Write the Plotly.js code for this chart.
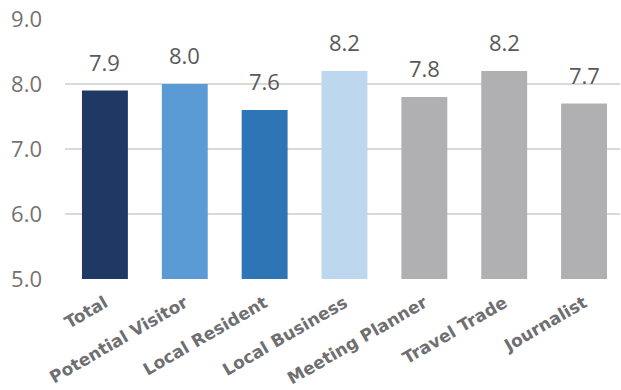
<!DOCTYPE html>
<html><head><meta charset="utf-8">
<script src="https://cdn.plot.ly/plotly-3.0.1.min.js"></script>
<style>html,body{margin:0;padding:0;background:#fff}#chart{width:621px;height:390px}</style>
</head><body><div id="chart"></div>
<script>
const categories = ["Total","Potential Visitor","Local Resident","Local Business","Meeting Planner","Travel Trade","Journalist"];
const values = [7.9, 8.0, 7.6, 8.2, 7.8, 8.2, 7.7];
const colors = ["#1F3864","#5B9BD5","#2E75B6","#BDD7EE","#B0B0B2","#B0B0B2","#B0B0B2"];
const yTicks = [5,6,7,8,9];
const yTickLabels = ["5.0","6.0","7.0","8.0","9.0"];

const trace = {type:"bar", x:categories, y:values, marker:{color:colors}, hoverinfo:"none"};
const annotations = categories.map((c,i)=>({
  x:c, y:values[i], xref:"x", yref:"y", text:values[i].toFixed(1), showarrow:false,
  yanchor:"bottom", yshift:12, font:{family:"Open Sans, sans-serif", size:22, color:"#595959"}
}));
const layout = {
  width:621, height:390, margin:{l:65,r:1,t:19,b:111}, paper_bgcolor:"#fff", plot_bgcolor:"#fff",
  bargap:0.425, showlegend:false,
  xaxis:{range:[-0.5,6.45], tickangle:-30, ticklabelstandoff:10,
    tickfont:{family:"DejaVu Sans, sans-serif", size:17, color:"#6F6F72", weight:"bold"},
    showgrid:false, showline:false, ticks:"", fixedrange:true},
  yaxis:{range:[5,9], tickvals:yTicks, ticktext:yTickLabels, showgrid:true, gridcolor:"#D9D9D9", gridwidth:1.5,
    zeroline:false, showline:false, ticks:"", ticklabelstandoff:22,
    tickfont:{family:"Open Sans, sans-serif", size:22, color:"#767171"}},
  annotations:annotations
};
Plotly.newPlot("chart",[trace],layout,{displayModeBar:false,staticPlot:true});
</script></body></html>
